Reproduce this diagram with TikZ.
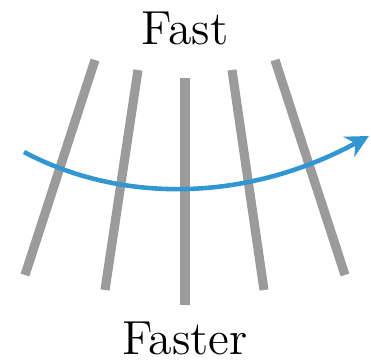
\documentclass[tikz,border=0pt]{standalone}
\usepackage{tikz}
\usepackage{xcolor}
\usetikzlibrary{arrows.meta}
\definecolor{rule}{RGB}{155,155,155}
\definecolor{flow}{RGB}{50,150,210}

\begin{document}
\begin{tikzpicture}
    \useasboundingbox (0,0) rectangle (3.71,3.61);
    % fanned grey bars
    \foreach \xt/\yt/\xb/\yb in {0.95/3.01/0.25/0.86,1.38/2.91/1.05/0.71,1.85/2.83/1.85/0.56,2.32/2.91/2.64/0.71,2.75/3.01/3.45/0.86}
      \draw[rule,line width=2.6pt] (\xt,\yt)--(\xb,\yb);
    % curved arrow across the bars
    \coordinate (in) at (0.24,2.09);
    \coordinate (out) at (3.69,2.25);
    \draw[flow,line width=1.3pt,-{Stealth[length=6.5pt,width=6.5pt]}] (in) .. controls (1.2,1.58) and (2.45,1.58) .. (out);
    \node[anchor=base,font=\fontsize{13.6}{16}\selectfont] (fast) at (1.85,3.16) {Fast};
    \node[anchor=base,font=\fontsize{13.6}{16}\selectfont] (faster) at (1.85,0.06) {Faster};
\end{tikzpicture}
\end{document}
